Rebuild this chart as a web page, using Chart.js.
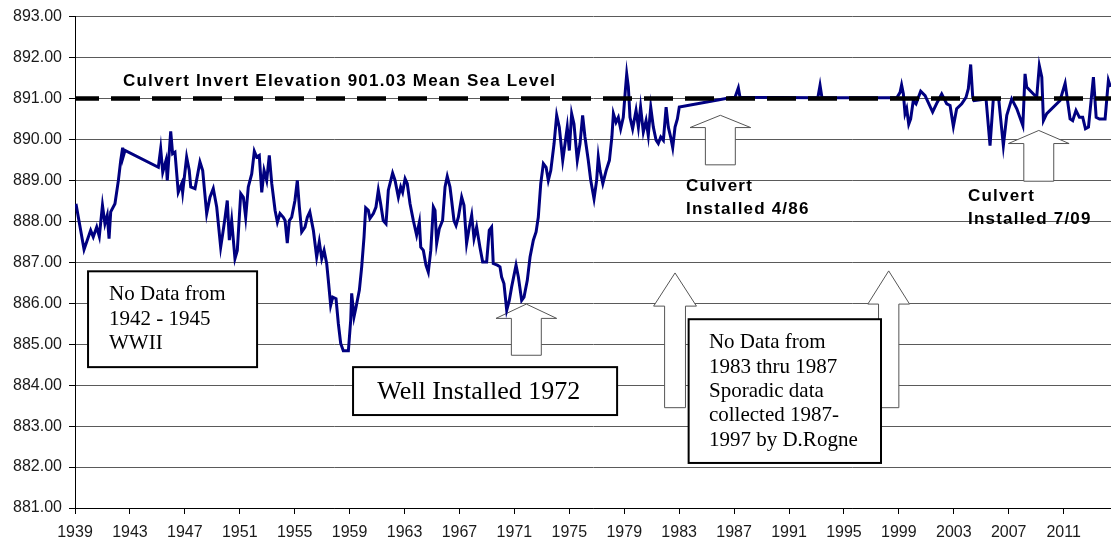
<!DOCTYPE html>
<html>
<head>
<meta charset="utf-8">
<script src="https://cdn.jsdelivr.net/npm/chart.js@4.4.1/dist/chart.umd.min.js"></script>
<style>
  html, body { margin: 0; padding: 0; background: #fff; }
  #wrap { width: 1111px; height: 543px; }
</style>
</head>
<body>
<div id="wrap"><canvas id="chart" width="1111" height="543"></canvas></div>
<script>
// Water level readings (decimal year, elevation)
var years = [
  1939.07, 1939.66, 1940.14, 1940.33, 1940.58, 1940.77, 1941.00, 1941.18, 1941.35, 1941.48,
  1941.60, 1941.91, 1942.16, 1942.33, 1942.47, 1942.50, 1942.64,
  1945.07, 1945.24, 1945.39, 1945.63, 1945.72, 1945.97, 1946.11, 1946.28, 1946.52, 1946.77,
  1946.84, 1947.13, 1947.32, 1947.43, 1947.74, 1948.10, 1948.30, 1948.59, 1948.83, 1949.07,
  1949.32, 1949.61, 1949.76, 1949.92, 1950.09, 1950.24, 1950.41, 1950.65, 1950.82, 1951.07,
  1951.26, 1951.43, 1951.62, 1951.87, 1952.06, 1952.23, 1952.42, 1952.60, 1952.77, 1952.96,
  1953.15, 1953.33, 1953.57, 1953.74, 1953.93, 1954.17, 1954.30, 1954.46, 1954.61, 1954.78,
  1955.02, 1955.19, 1955.34, 1955.51, 1955.75, 1955.92, 1956.10, 1956.36, 1956.60, 1956.79,
  1956.97, 1957.14, 1957.33, 1957.45, 1957.62, 1957.77, 1958.01, 1958.18, 1958.35, 1958.54,
  1958.91, 1959.08, 1959.15, 1959.32, 1959.47, 1959.71, 1959.88, 1960.05, 1960.17, 1960.36,
  1960.48, 1960.73, 1960.92, 1961.09, 1961.26, 1961.45, 1961.65, 1961.82, 1962.13, 1962.31,
  1962.55, 1962.72, 1962.86, 1963.04, 1963.20, 1963.40, 1963.64, 1963.88, 1964.08, 1964.18,
  1964.37, 1964.56, 1964.73, 1964.91, 1965.10, 1965.22, 1965.34, 1965.53, 1965.77, 1965.95,
  1966.11, 1966.31, 1966.43, 1966.60, 1966.75, 1966.92, 1967.16, 1967.33, 1967.52, 1967.72,
  1967.89, 1968.06, 1968.25, 1968.49, 1968.69, 1968.98, 1969.17, 1969.34, 1969.46, 1969.76,
  1969.95, 1970.07, 1970.24, 1970.44, 1970.63, 1970.80, 1971.12, 1971.29, 1971.53, 1971.70,
  1971.94, 1972.14, 1972.38, 1972.58, 1972.74, 1972.92, 1973.11, 1973.31, 1973.47, 1973.65,
  1973.89, 1974.08, 1974.27, 1974.52, 1974.69, 1974.85, 1975.00, 1975.17, 1975.34, 1975.58,
  1975.78, 1975.97, 1976.14, 1976.38, 1976.56, 1976.80, 1976.99, 1977.11, 1977.24, 1977.44,
  1977.68, 1977.92, 1978.10, 1978.21, 1978.40, 1978.57, 1978.74, 1978.93, 1979.06, 1979.18,
  1979.30, 1979.42, 1979.61, 1979.86, 1980.03, 1980.19, 1980.39, 1980.59, 1980.75, 1980.93,
  1981.12, 1981.32, 1981.48, 1981.66, 1981.85, 1982.05, 1982.21, 1982.38, 1982.53, 1982.70,
  1982.87, 1983.01,
  1986.71, 1987.07, 1987.31, 1987.43, 1993.10, 1993.26, 1993.40, 1998.85,
  1999.09, 1999.20, 1999.33, 1999.45, 1999.57, 1999.72, 1999.86, 2000.05, 2000.25, 2000.59,
  2000.91, 2001.46, 2001.80, 2002.12, 2002.49, 2002.73, 2002.97, 2003.21, 2003.58, 2003.89,
  2004.06, 2004.23, 2004.38, 2004.47, 2005.35, 2005.64, 2005.88, 2006.13, 2006.27, 2006.61,
  2006.86, 2007.22, 2007.59, 2008.03, 2008.19, 2008.31, 2008.80, 2009.04, 2009.23, 2009.41,
  2009.53, 2009.77, 2010.74, 2011.11, 2011.47, 2011.66, 2011.90, 2012.15, 2012.39, 2012.59,
  2012.81, 2013.17, 2013.37, 2013.61, 2014.02, 2014.26, 2014.41
];
var levels = [
  888.43, 887.31, 887.78, 887.62, 887.86, 887.63, 888.39, 887.94, 888.15, 887.58,
  888.23, 888.43, 889.00, 889.49, 889.80, 889.57, 889.73,
  889.32, 889.77, 889.20, 889.49, 889.00, 890.20, 889.65, 889.69, 888.71, 888.92,
  888.71, 889.57, 889.24, 888.84, 888.80, 889.45, 889.24, 888.19, 888.59, 888.80,
  888.35, 887.37, 887.70, 888.07, 888.51, 887.54, 888.02, 887.09, 887.29, 888.68,
  888.59, 888.10, 888.84, 889.16, 889.71, 889.57, 889.61, 888.71, 889.24, 889.00,
  889.61, 888.92, 888.27, 887.98, 888.19, 888.10, 888.02, 887.47, 888.02, 888.10,
  888.51, 889.00, 888.35, 887.74, 887.86, 888.10, 888.23, 887.78, 887.13, 887.50,
  887.09, 887.29, 886.97, 886.56, 885.95, 886.15, 886.11, 885.50, 885.02, 884.84,
  884.84, 885.59, 886.24, 885.67, 885.91, 886.32, 886.89, 887.62, 888.33, 888.27,
  888.07, 888.19, 888.35, 888.76, 888.43, 888.02, 887.94, 888.76, 889.18, 889.00,
  888.59, 888.84, 888.71, 889.04, 888.92, 888.43, 888.02, 887.66, 887.98, 887.37,
  887.29, 886.93, 886.76, 887.29, 888.35, 888.27, 887.46, 887.82, 888.02, 888.84,
  889.10, 888.84, 888.51, 888.02, 887.90, 888.10, 888.59, 888.39, 887.46, 887.86,
  888.15, 887.58, 887.86, 887.37, 887.01, 887.01, 887.78, 887.86, 886.97, 886.93,
  886.89, 886.64, 886.48, 885.83, 886.07, 886.40, 886.93, 886.64, 886.07, 886.15,
  886.56, 887.13, 887.54, 887.74, 888.10, 888.92, 889.41, 889.32, 889.00, 889.24,
  889.90, 890.59, 890.30, 889.49, 889.90, 890.30, 889.73, 890.63, 890.38, 889.49,
  889.90, 890.59, 890.06, 889.49, 889.00, 888.55, 889.00, 889.57, 889.24, 888.92,
  889.24, 889.49, 890.06, 890.63, 890.42, 890.54, 890.26, 890.54, 891.11, 891.60,
  891.28, 890.54, 890.26, 890.71, 890.30, 890.79, 890.18, 890.46, 890.10, 890.79,
  890.30, 889.98, 889.90, 890.06, 889.98, 890.79, 890.30, 890.06, 889.80, 890.30,
  890.50, 890.79,
  891.02, 891.03, 891.26, 891.03, 891.02, 891.32, 891.02, 891.02,
  891.15, 891.33, 891.11, 890.63, 890.75, 890.37, 890.50, 890.95, 890.87, 891.18,
  891.07, 890.67, 890.91, 891.11, 890.87, 890.83, 890.32, 890.75, 890.87, 891.03,
  891.24, 891.83, 891.03, 890.95, 890.99, 889.85, 890.99, 890.99, 890.99, 889.85,
  890.59, 890.99, 890.75, 890.34, 891.60, 891.28, 891.11, 891.03, 891.80, 891.52,
  890.46, 890.63, 890.95, 891.37, 890.50, 890.46, 890.71, 890.54, 890.54, 890.26,
  890.30, 891.52, 890.54, 890.50, 890.50, 891.44, 891.28
];

// Culvert invert reference line
var culvertLevel = 891.0;
var xMin = 1939, xMax = 2014.45;
var yMin = 881, yMax = 893;
var xTickYears = [1939, 1943, 1947, 1951, 1955, 1959, 1963, 1967, 1971, 1975,
                  1979, 1983, 1987, 1991, 1995, 1999, 2003, 2007, 2011];

var points = years.map(function (y, i) { return { x: y, y: levels[i] }; });

// up arrows: centre year, tip / neck / base elevation, half widths in years
var arrows = [
  { x: 1971.87, tip: 885.98, neck: 885.63, base: 884.73, head: 2.21, shaft: 1.09 },
  { x: 1986.00, tip: 890.59, neck: 890.29, base: 889.38, head: 2.21, shaft: 1.09 },
  { x: 2009.19, tip: 890.22, neck: 889.90, base: 888.98, head: 2.21, shaft: 1.09 },
  { x: 1982.70, tip: 886.74, neck: 885.93, base: 883.45, head: 1.56, shaft: 0.76 },
  { x: 1998.26, tip: 886.79, neck: 885.98, base: 883.45, head: 1.52, shaft: 0.74 }
];

// text boxes
var boxes = [
  { x0: 1939.95, x1: 1952.26, y0: 886.78, y1: 884.44, tx: 1941.48, align: 'left', size: 21,
    lines: ['No Data from', '1942 - 1945', 'WWII'], ly: [886.22, 885.61, 885.02] },
  { x0: 1959.25, x1: 1978.48, y0: 884.44, y1: 883.27, tx: 1968.40, align: 'center', size: 26,
    lines: ['Well Installed 1972'], ly: [883.83] },
  { x0: 1983.69, x1: 1997.70, y0: 885.61, y1: 882.10, tx: 1985.17, align: 'left', size: 21,
    lines: ['No Data from', '1983 thru 1987', 'Sporadic data', 'collected 1987-', '1997 by D.Rogne'],
    ly: [885.05, 884.44, 883.85, 883.27, 882.66] }
];

// bold labels
var labels = [
  { text: 'Culvert Invert Elevation 901.03 Mean Sea Level', x: 1942.5, y: 891.41 },
  { text: 'Culvert', x: 1983.5, y: 888.85 },
  { text: 'Installed 4/86', x: 1983.5, y: 888.29 },
  { text: 'Culvert', x: 2004.04, y: 888.62 },
  { text: 'Installed 7/09', x: 2004.04, y: 888.04 }
];

var annotations = {
  id: 'annotations',
  beforeDatasetsDraw: function (chart) {
    var ctx = chart.ctx, sx = chart.scales.x, sy = chart.scales.y;
    ctx.save();
    ctx.lineWidth = 1;
    ctx.strokeStyle = '#555';
    ctx.fillStyle = '#fff';
    arrows.forEach(function (a) {
      var cx = sx.getPixelForValue(a.x);
      var hw = sx.getPixelForValue(a.x + a.head) - cx;
      var sw = sx.getPixelForValue(a.x + a.shaft) - cx;
      var tip = sy.getPixelForValue(a.tip), neck = sy.getPixelForValue(a.neck), base = sy.getPixelForValue(a.base);
      ctx.beginPath();
      ctx.moveTo(cx, tip);
      ctx.lineTo(cx + hw, neck);
      ctx.lineTo(cx + sw, neck);
      ctx.lineTo(cx + sw, base);
      ctx.lineTo(cx - sw, base);
      ctx.lineTo(cx - sw, neck);
      ctx.lineTo(cx - hw, neck);
      ctx.closePath();
      ctx.fill();
      ctx.stroke();
    });
    ctx.restore();
  },
  afterDatasetsDraw: function (chart) {
    var ctx = chart.ctx, sx = chart.scales.x, sy = chart.scales.y;
    ctx.save();
    boxes.forEach(function (b) {
      var x0 = sx.getPixelForValue(b.x0), x1 = sx.getPixelForValue(b.x1);
      var y0 = sy.getPixelForValue(b.y0), y1 = sy.getPixelForValue(b.y1);
      ctx.fillStyle = '#fff';
      ctx.fillRect(x0, y0, x1 - x0, y1 - y0);
      ctx.lineWidth = 2;
      ctx.strokeStyle = '#000';
      ctx.strokeRect(x0, y0, x1 - x0, y1 - y0);
      ctx.fillStyle = '#000';
      ctx.font = b.size + 'px "Liberation Serif", "Times New Roman", serif';
      ctx.textAlign = b.align;
      ctx.textBaseline = 'middle';
      b.lines.forEach(function (t, i) {
        ctx.fillText(t, sx.getPixelForValue(b.tx), sy.getPixelForValue(b.ly[i]));
      });
    });
    ctx.font = 'bold 17px "Liberation Sans", Arial, sans-serif';
    ctx.letterSpacing = '1.2px';
    ctx.textAlign = 'left';
    ctx.textBaseline = 'middle';
    ctx.fillStyle = '#000';
    labels.forEach(function (l) {
      ctx.fillText(l.text, sx.getPixelForValue(l.x), sy.getPixelForValue(l.y));
    });
    ctx.restore();
  }
};

Chart.defaults.font.family = '"Liberation Sans", Arial, sans-serif';
Chart.defaults.font.size = 16;
Chart.defaults.color = '#1a1a1a';

var chart = new Chart(document.getElementById('chart'), {
  type: 'line',
  data: {
    datasets: [{
      label: 'Culvert invert',
      data: [{ x: xMin, y: culvertLevel }, { x: xMax, y: culvertLevel }],
      borderColor: '#000',
      borderWidth: 4.5,
      borderDash: [29, 12],
      borderDashOffset: 5,
      pointRadius: 0,
      order: 0
    }, {
      label: 'Water level',
      data: points,
      borderColor: '#000080',
      borderWidth: 3,
      pointRadius: 0,
      tension: 0,
      order: 1
    }]
  },
  options: {
    responsive: false,
    animation: false,
    layout: { padding: { top: 16, right: 0, left: 0, bottom: 0 } },
    plugins: { legend: { display: false }, tooltip: { enabled: false } },
    scales: {
      x: {
        type: 'linear',
        min: xMin,
        max: xMax,
        afterBuildTicks: function (scale) {
          scale.ticks = xTickYears.map(function (v) { return { value: v }; });
        },
        afterFit: function (scale) { scale.height = 35; },
        ticks: {
          autoSkip: false,
          maxRotation: 0,
          padding: 9,
          callback: function (v) { return String(v); }
        },
        grid: { drawOnChartArea: false, drawTicks: true, tickLength: 6, color: '#000' },
        border: { display: true, color: '#000', width: 1 }
      },
      y: {
        min: yMin,
        max: yMax,
        afterFit: function (scale) { scale.width = 75; },
        ticks: {
          stepSize: 1,
          padding: 7,
          callback: function (v) { return v.toFixed(2); }
        },
        grid: { color: '#5a5a5a', tickColor: '#000', tickLength: 6, lineWidth: 1 },
        border: { display: true, color: '#000', width: 1 }
      }
    }
  },
  plugins: [annotations]
});
</script>
</body>
</html>
